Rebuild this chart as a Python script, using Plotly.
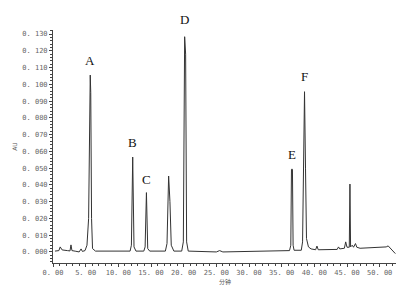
import plotly.graph_objects as go

# Chromatogram trace (time in minutes, absorbance in AU)
time_min = [0.3, 0.9, 1.1, 1.4, 2.2, 2.6, 2.75, 2.9, 3.5, 4.0, 4.3, 4.5, 4.9, 5.2, 5.45, 5.6, 5.7, 5.78, 5.9, 6.05, 6.5,
            11.8, 12.0, 12.2, 12.4, 12.7, 13.9, 14.1, 14.3, 14.5, 14.8,
            17.2, 17.45, 17.7, 17.9, 18.1, 18.5, 19.7, 19.95, 20.15, 20.3, 20.45, 20.7,
            25.0, 25.5, 26.0, 30.0, 36.2, 36.4, 36.5, 36.65, 36.75, 36.9,
            38.0, 38.2, 38.4, 38.5, 38.65, 38.8, 39.1, 39.5, 40.2, 40.4, 40.6,
            43.5, 43.7, 43.9, 44.6, 44.8, 45.0, 45.35, 45.45, 45.55, 45.8, 46.0, 46.3, 46.5, 47.0,
            51.0, 51.3, 51.8, 52.4]
absorbance = [0.0005, 0.0008, 0.0030, 0.0012, 0.0008, 0.0006, 0.0042, 0.0008, 0.0004, 0.0000, 0.0018, 0.0003, 0.0008, 0.0040, 0.020, 0.095, 0.1055, 0.095, 0.020, 0.0020, 0.0005,
              0.0005, 0.004, 0.0566, 0.003, 0.0005, 0.0005, 0.003, 0.0354, 0.002, 0.0005,
              0.0005, 0.005, 0.0453, 0.030, 0.004, 0.0005, 0.0005, 0.006, 0.1284, 0.1180, 0.006, 0.0005,
              0.0000, 0.0008, 0.0000, 0.0002, 0.0008, 0.004, 0.0493, 0.0493, 0.004, 0.001,
              0.001, 0.006, 0.075, 0.0956, 0.050, 0.008, 0.003, 0.0018, 0.0013, 0.0035, 0.0013,
              0.0015, 0.0030, 0.0018, 0.0022, 0.0060, 0.0028, 0.0028, 0.0405, 0.0030, 0.0040, 0.0028, 0.0050, 0.0028, 0.0022,
              0.0030, 0.0036, 0.0015, -0.0010]

peak_labels = ["A", "B", "C", "D", "E", "F"]
peak_times = [5.7, 12.2, 14.3, 20.2, 36.6, 38.5]
peak_heights = [0.1055, 0.0566, 0.0354, 0.1284, 0.0493, 0.0956]

x_tickvals = [0, 5, 10, 15, 20, 25, 30, 35, 40, 45, 50]
x_ticktext = ["0. 00", "5. 00", "10. 00", "15. 00", "20. 00", "25. 00", "30. 00", "35. 00", "40. 00", "45. 00", "50. 00"]
y_tickvals = [0.00, 0.01, 0.02, 0.03, 0.04, 0.05, 0.06, 0.07, 0.08, 0.09, 0.10, 0.11, 0.12, 0.13]
y_ticktext = ["0. 000", "0. 010", "0. 020", "0. 030", "0. 040", "0. 050", "0. 060", "0. 070", "0. 080", "0. 090", "0. 100", "0. 110", "0. 120", "0. 130"]

fig = go.Figure()
fig.add_trace(go.Scatter(x=time_min, y=absorbance, mode="lines",
                         line=dict(color="#333333", width=1), showlegend=False))

label_shift = [5, 5, 4, 8, 5, 6]
for lab, t, h, s in zip(peak_labels, peak_times, peak_heights, label_shift):
    fig.add_annotation(x=t, y=h, text=lab, showarrow=False, yanchor="bottom", yshift=s,
                       font=dict(family="Liberation Serif", size=13, color="#111111"))

fig.add_annotation(x=0.5, y=0, xref="paper", yref="paper", text="分钟", showarrow=False,
                   yanchor="middle", yshift=-18,
                   font=dict(family="Noto Sans CJK SC", size=6, color="#555555"))

tick_font = dict(family="DejaVu Sans Mono", size=7, color="#666666")
# page body has an 8px default margin, so the figure is drawn 8px in from the top-left
fig.update_layout(
    width=400, height=277,
    margin=dict(l=45, r=12, t=22, b=22),
    paper_bgcolor="white", plot_bgcolor="white",
    xaxis=dict(range=[0, 52.5], tickvals=x_tickvals, ticktext=x_ticktext, tickfont=tick_font,
               automargin=False,
               showgrid=False, zeroline=False, showline=True, linecolor="#444444", linewidth=1,
               ticks="outside", ticklen=3, tickcolor="#444444",
               minor=dict(dtick=1, ticks="outside", ticklen=2, tickcolor="#444444", showgrid=False)),
    yaxis=dict(range=[-0.0066, 0.1324], tickvals=y_tickvals, ticktext=y_ticktext, tickfont=tick_font,
               automargin=False,
               showgrid=False, zeroline=False, showline=True, linecolor="#444444", linewidth=1,
               ticks="outside", ticklen=3, tickcolor="#444444",
               minor=dict(dtick=0.002, ticks="outside", ticklen=2, tickcolor="#444444", showgrid=False),
               title=dict(text="AU", font=dict(family="DejaVu Sans", size=6, color="#555555"), standoff=4)),
)
fig.write_html("out.html")
